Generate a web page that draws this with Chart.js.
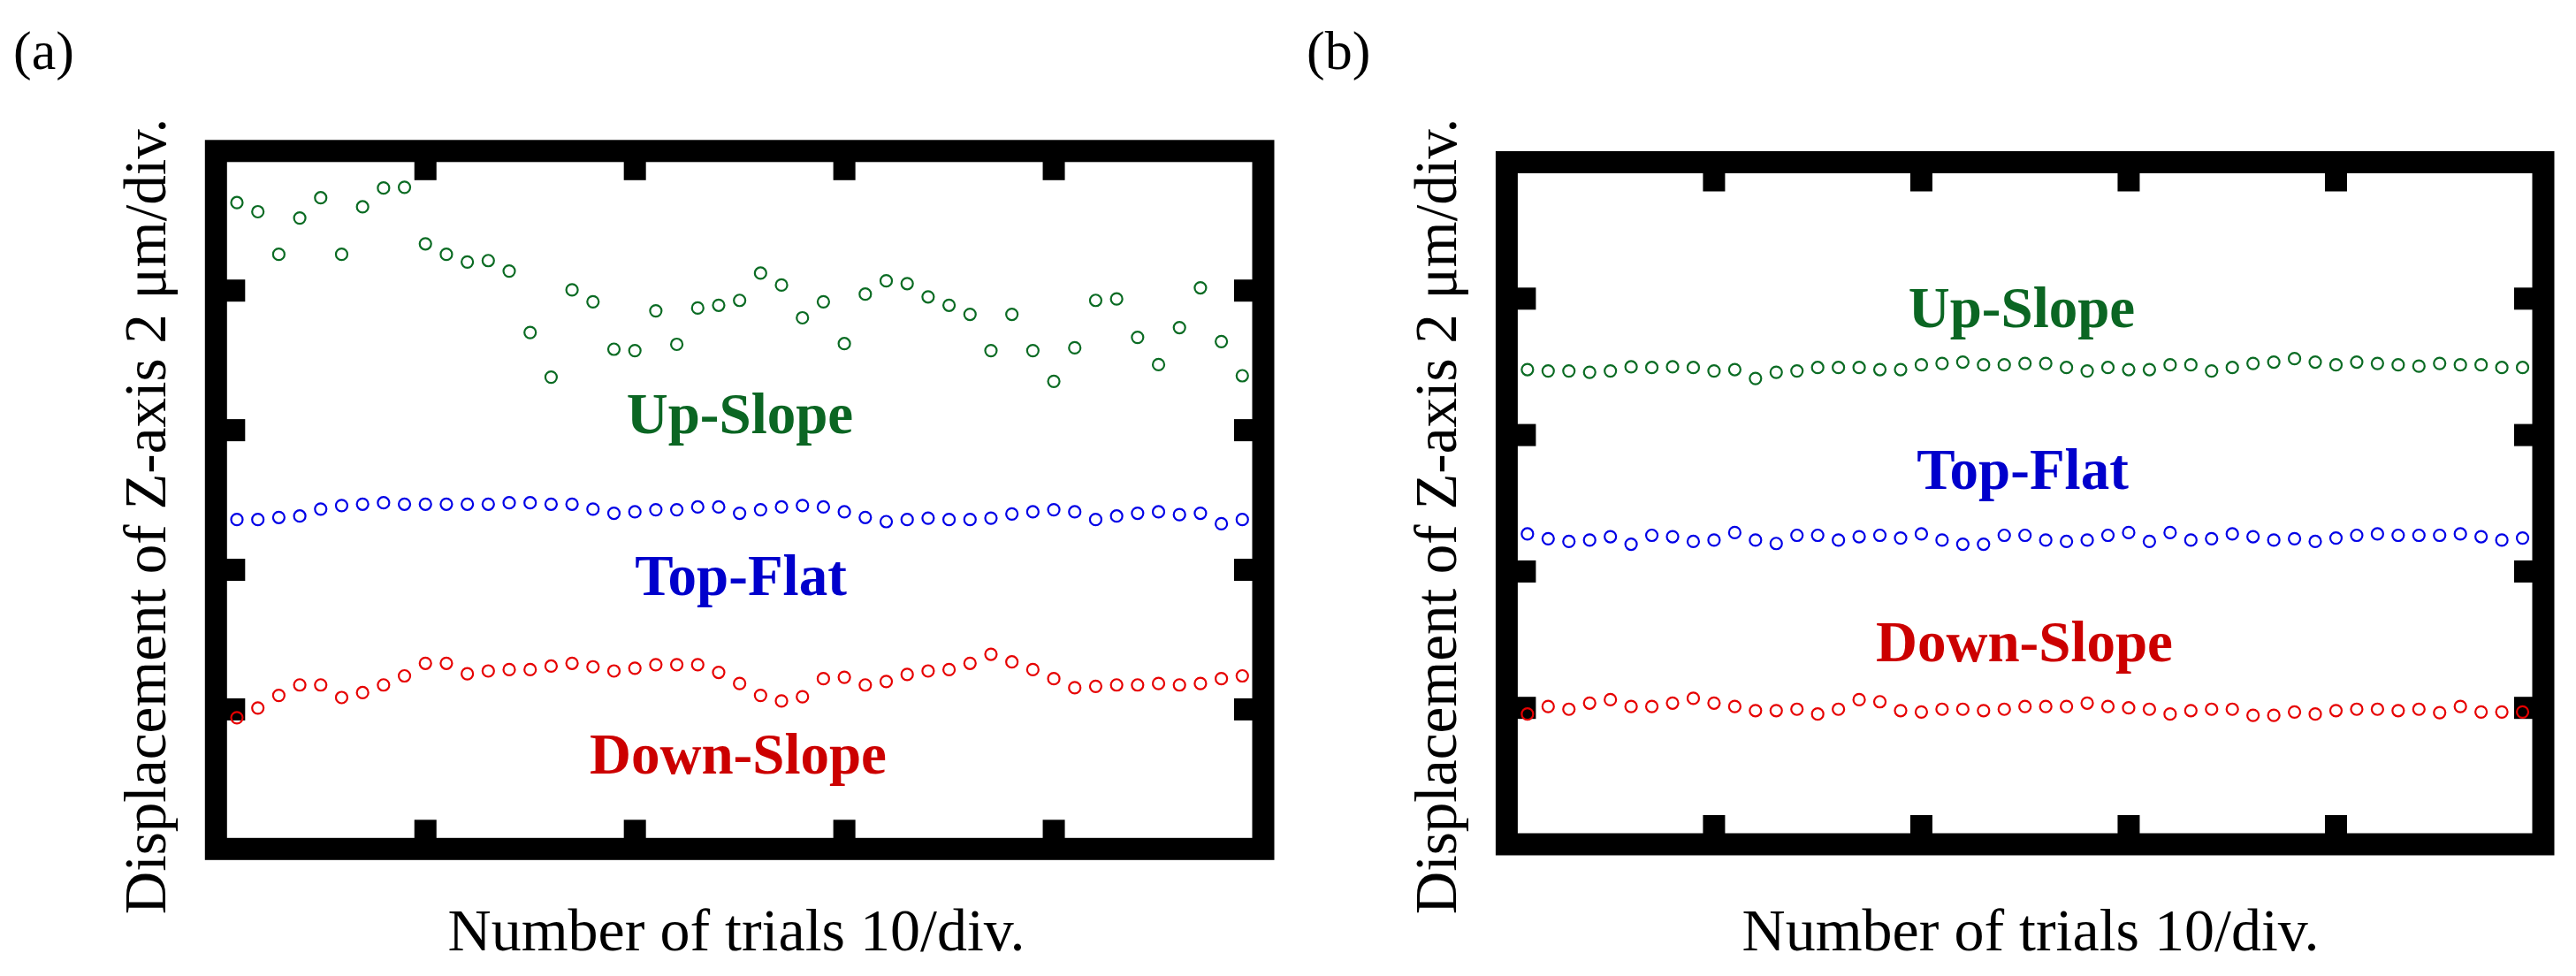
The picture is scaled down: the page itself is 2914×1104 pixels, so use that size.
<!DOCTYPE html>
<html>
<head>
<meta charset="utf-8">
<script src="https://cdn.jsdelivr.net/npm/chart.js@4.4.0/dist/chart.umd.min.js"></script>
<style>
  body { margin: 0; background: #fff; }
  canvas { position: absolute; top: 0; }
</style>
</head>
<body>
<canvas id="grafico1" width="1457" height="1104" style="left:0px"></canvas>
<canvas id="grafico2" width="1457" height="1104" style="left:1457px"></canvas>
<script>
// trial number of each point (x axis 0..50, 10 trials per division)
const trials = [1, 2, 3, 4, 5, 6, 7, 8, 9, 10, 11, 12, 13, 14, 15, 16, 17, 18, 19, 20,
  21, 22, 23, 24, 25, 26, 27, 28, 29, 30, 31, 32, 33, 34, 35, 36, 37, 38, 39, 40,
  41, 42, 43, 44, 45, 46, 47, 48, 49];

// z displacement in um (axis 0..10, 2 um per division)
const upSlopeA = [9.26, 9.13, 8.52, 9.04, 9.33, 8.52, 9.20, 9.47, 9.48, 8.67,
  8.52, 8.41, 8.43, 8.28, 7.40, 6.76, 8.01, 7.84, 7.16, 7.14,
  7.71, 7.23, 7.75, 7.79, 7.86, 8.25, 8.08, 7.61, 7.84, 7.24,
  7.95, 8.14, 8.10, 7.91, 7.79, 7.66, 7.14, 7.66, 7.14, 6.70,
  7.18, 7.86, 7.88, 7.33, 6.94, 7.47, 8.04, 7.27, 6.78];
const topFlatA = [4.72, 4.72, 4.75, 4.77, 4.87, 4.92, 4.94, 4.96, 4.94, 4.94,
  4.94, 4.94, 4.94, 4.96, 4.96, 4.94, 4.94, 4.87, 4.81, 4.83,
  4.86, 4.86, 4.90, 4.90, 4.81, 4.86, 4.90, 4.92, 4.90, 4.83,
  4.75, 4.69, 4.72, 4.74, 4.72, 4.72, 4.74, 4.80, 4.83, 4.86,
  4.83, 4.72, 4.77, 4.81, 4.83, 4.79, 4.81, 4.66, 4.72];
const downSlopeA = [1.88, 2.02, 2.20, 2.35, 2.35, 2.17, 2.24, 2.35, 2.48, 2.66,
  2.66, 2.51, 2.55, 2.57, 2.57, 2.62, 2.66, 2.61, 2.55, 2.59,
  2.64, 2.64, 2.64, 2.53, 2.37, 2.20, 2.12, 2.18, 2.44, 2.46,
  2.35, 2.40, 2.50, 2.55, 2.57, 2.66, 2.79, 2.68, 2.57, 2.44,
  2.31, 2.33, 2.35, 2.35, 2.37, 2.35, 2.37, 2.44, 2.48];

const upSlopeB = [6.96, 6.94, 6.94, 6.92, 6.94, 7.00, 6.99, 7.00, 6.99, 6.94,
  6.96, 6.83, 6.92, 6.94, 6.99, 6.99, 6.99, 6.96, 6.96, 7.03,
  7.05, 7.07, 7.03, 7.03, 7.05, 7.05, 6.99, 6.94, 6.99, 6.96,
  6.96, 7.03, 7.03, 6.94, 6.99, 7.05, 7.07, 7.12, 7.07, 7.03,
  7.07, 7.05, 7.03, 7.01, 7.05, 7.03, 7.03, 6.99, 6.99];
const topFlatB = [4.55, 4.48, 4.44, 4.46, 4.51, 4.40, 4.53, 4.51, 4.44, 4.46,
  4.57, 4.46, 4.41, 4.53, 4.53, 4.46, 4.51, 4.53, 4.49, 4.55,
  4.46, 4.40, 4.40, 4.53, 4.53, 4.46, 4.44, 4.46, 4.53, 4.57,
  4.44, 4.57, 4.46, 4.48, 4.55, 4.51, 4.46, 4.48, 4.44, 4.49,
  4.53, 4.55, 4.53, 4.53, 4.53, 4.55, 4.51, 4.46, 4.49];
const downSlopeB = [1.91, 2.02, 1.98, 2.07, 2.12, 2.02, 2.02, 2.07, 2.14, 2.07,
  2.02, 1.96, 1.96, 1.98, 1.91, 1.98, 2.12, 2.09, 1.96, 1.94,
  1.98, 1.98, 1.96, 1.98, 2.02, 2.02, 2.02, 2.07, 2.02, 2.00,
  1.98, 1.91, 1.96, 1.98, 1.98, 1.89, 1.89, 1.94, 1.91, 1.96,
  1.98, 1.98, 1.96, 1.98, 1.93, 2.02, 1.94, 1.94, 1.94];

const xTicks = [10, 20, 30, 40];
const yTicks = [2, 4, 6, 8];

const verde = '#0a6b23';
const azul = '#0000e6';
const rojo = '#e60000';

const puntos = (serie) => trials.map((t, i) => ({ x: t, y: serie[i] }));

// thick black frame with inward ticks on all four sides
const marco = {
  id: 'marco',
  beforeDatasetsDraw(chart) {
    const { ctx, scales: { x, y } } = chart;
    const left = x.getPixelForValue(0);
    const right = x.getPixelForValue(50);
    const top = y.getPixelForValue(10);
    const bottom = y.getPixelForValue(0);
    ctx.save();
    ctx.strokeStyle = '#000';
    ctx.fillStyle = '#000';
    ctx.lineWidth = 25;
    ctx.lineJoin = 'miter';
    ctx.strokeRect(left, top, right - left, bottom - top);
    xTicks.forEach((v) => {
      const px = x.getPixelForValue(v);
      ctx.fillRect(px - 12.5, top, 25, 33);
      ctx.fillRect(px - 12.5, bottom - 33, 25, 33);
    });
    yTicks.forEach((v) => {
      const py = y.getPixelForValue(v);
      ctx.fillRect(left, py - 12.5, 33, 25);
      ctx.fillRect(right - 33, py - 12.5, 33, 25);
    });
    ctx.restore();
  },
};

// panel letter, series names and axis titles
const textos = {
  id: 'textos',
  afterDatasetsDraw(chart, args, opts) {
    const ctx = chart.ctx;
    ctx.save();
    ctx.textBaseline = 'alphabetic';
    opts.items.forEach((t) => {
      ctx.font = t.font;
      ctx.fillStyle = t.color;
      ctx.textAlign = t.align || 'center';
      ctx.save();
      ctx.translate(t.x, t.y);
      if (t.rotar) ctx.rotate(-Math.PI / 2);
      ctx.fillText(t.text, 0, 0);
      ctx.restore();
    });
    ctx.restore();
  },
};

const serieBase = {
  pointStyle: 'circle',
  pointRadius: 6.5,
  pointBorderWidth: 2.2,
  backgroundColor: 'rgba(0,0,0,0)',
  showLine: false,
};

const crearGrafico = (contenedor, up, flat, down, padding, items) => {
  return new Chart(contenedor, {
    type: 'scatter',
    data: {
      datasets: [
        { ...serieBase, label: 'Up-Slope', data: puntos(up), borderColor: verde },
        { ...serieBase, label: 'Top-Flat', data: puntos(flat), borderColor: azul },
        { ...serieBase, label: 'Down-Slope', data: puntos(down), borderColor: rojo },
      ],
    },
    options: {
      responsive: false,
      animation: false,
      events: [],
      layout: { padding: padding },
      scales: {
        x: { type: 'linear', min: 0, max: 50, display: false },
        y: { type: 'linear', min: 0, max: 10, display: false },
      },
      plugins: {
        legend: { display: false },
        tooltip: { enabled: false },
        textos: { items: items },
      },
    },
    plugins: [marco, textos],
  });
};

const fuenteNombre = 'bold 65px "Liberation Serif"';
const fuenteEjeX = '68px "Liberation Serif"';
const fuenteEjeY = '67px "Liberation Serif"';
const fuenteLetra = '62px "Liberation Serif"';
const tituloX = 'Number of trials 10/div.';
const tituloY = 'Displacement of Z-axis 2 \u03bcm/div.';

crearGrafico(document.getElementById('grafico1'), upSlopeA, topFlatA, downSlopeA,
  { left: 244.3, top: 170.8, right: 28, bottom: 143.7 },
  [
    { text: '(a)', x: 15, y: 78, font: fuenteLetra, color: '#000', align: 'left' },
    { text: 'Up-Slope', x: 837, y: 490, font: fuenteNombre, color: '#0b6623' },
    { text: 'Top-Flat', x: 838, y: 673, font: fuenteNombre, color: '#0000cc' },
    { text: 'Down-Slope', x: 835, y: 875, font: fuenteNombre, color: '#cc0000' },
    { text: tituloX, x: 833, y: 1075, font: fuenteEjeX, color: '#000' },
    { text: tituloY, x: 187, y: 584, font: fuenteEjeY, color: '#000', rotar: true },
  ]);

crearGrafico(document.getElementById('grafico2'), upSlopeB, topFlatB, downSlopeB,
  { left: 247.4, top: 183.5, right: 37, bottom: 149 },
  [
    { text: '(b)', x: 21, y: 78, font: fuenteLetra, color: '#000', align: 'left' },
    { text: 'Up-Slope', x: 830, y: 370, font: fuenteNombre, color: '#0b6623' },
    { text: 'Top-Flat', x: 831, y: 553, font: fuenteNombre, color: '#0000cc' },
    { text: 'Down-Slope', x: 833, y: 748, font: fuenteNombre, color: '#cc0000' },
    { text: tituloX, x: 840, y: 1075, font: fuenteEjeX, color: '#000' },
    { text: tituloY, x: 190, y: 584, font: fuenteEjeY, color: '#000', rotar: true },
  ]);
</script>
</body>
</html>
